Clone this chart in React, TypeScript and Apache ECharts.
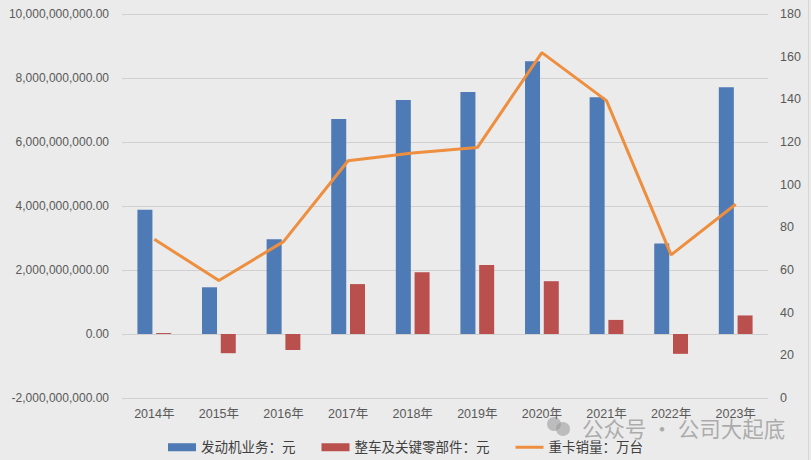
import React, { useEffect, useRef } from "react";
import * as echarts from "echarts";

const categories = ["2014年", "2015年", "2016年", "2017年", "2018年", "2019年", "2020年", "2021年", "2022年", "2023年"];
const engineRevenue = [3.88e9, 1.46e9, 2.96e9, 6.72e9, 7.31e9, 7.56e9, 8.52e9, 7.40e9, 2.83e9, 7.71e9];
const vehicleParts = [0.03e9, -0.6e9, -0.5e9, 1.56e9, 1.93e9, 2.16e9, 1.65e9, 0.44e9, -0.62e9, 0.58e9];
const truckSales = [74.4, 55.1, 73.3, 111.2, 114.8, 117.4, 161.9, 139.4, 67.1, 90.8];
const leftTicks = { min: -2e9, max: 1e10, interval: 2e9 };
const rightTicks = { min: 0, max: 180, interval: 20 };

const FONT = "'Liberation Sans', 'Noto Sans CJK SC', sans-serif";

function fmt(v: number): string {
  const neg = v < 0;
  const s = Math.abs(Math.round(v)).toString().replace(/\B(?=(\d{3})+(?!\d))/g, ",");
  return (neg ? "-" : "") + s + ".00";
}

export default function App() {
  const ref = useRef<HTMLDivElement>(null);
  useEffect(() => {
    if (!ref.current) return;
    const chart = echarts.init(ref.current, undefined, { renderer: "svg" });
    chart.setOption({
      animation: false,
      backgroundColor: "#ebebeb",
      textStyle: { fontFamily: FONT },
      grid: { left: 122, right: 43, top: 14, bottom: 62, containLabel: false },
      legend: {
        bottom: 1,
        left: "center",
        itemGap: 26,
        itemWidth: 28,
        itemHeight: 8,
        textStyle: { fontSize: 13.5, color: "#404040", fontFamily: FONT },
        data: [
          { name: "发动机业务：元", icon: "rect" },
          { name: "整车及关键零部件：元", icon: "rect" },
          { name: "重卡销量：万台", icon: "path://M0,0 L28,0 L28,3 L0,3 Z" },
        ],
      },
      xAxis: {
        type: "category",
        data: categories,
        axisLine: { show: false },
        axisTick: { show: false },
        axisLabel: { color: "#595959", fontSize: 12.5, margin: 10, fontFamily: FONT },
      },
      yAxis: [
        {
          type: "value",
          min: leftTicks.min,
          max: leftTicks.max,
          interval: leftTicks.interval,
          axisLine: { show: false },
          axisTick: { show: false },
          splitLine: { lineStyle: { color: "#d0d0d0", width: 1 } },
          axisLabel: { color: "#595959", fontSize: 12, margin: 13, formatter: (v: number) => fmt(v), fontFamily: FONT },
        },
        {
          type: "value",
          min: rightTicks.min,
          max: rightTicks.max,
          interval: rightTicks.interval,
          axisLine: { show: false },
          axisTick: { show: false },
          splitLine: { show: false },
          axisLabel: { color: "#595959", fontSize: 12.5, margin: 12, fontFamily: FONT },
        },
      ],
      series: [
        {
          name: "发动机业务：元",
          type: "bar",
          data: engineRevenue,
          itemStyle: { color: "#4e7ab5" },
          barWidth: 15,
          barGap: "25%",
        },
        {
          name: "整车及关键零部件：元",
          type: "bar",
          data: vehicleParts,
          itemStyle: { color: "#b9504d" },
          barWidth: 15,
        },
        {
          name: "重卡销量：万台",
          type: "line",
          yAxisIndex: 1,
          data: truckSales,
          showSymbol: false,
          symbol: "none",
          lineStyle: { color: "#ee8e3f", width: 3 },
          itemStyle: { color: "#ee8e3f" },
        },
      ],
      graphic: [
        {
          type: "line",
          shape: { x1: 808.5, y1: 0, x2: 808.5, y2: 460 },
          style: { stroke: "#d6d6d6", lineWidth: 1 },
          silent: true,
        },
        {
          type: "circle",
          shape: { cx: 554, cy: 424, r: 7 },
          style: { fill: "rgba(150,150,150,0.55)" },
          silent: true,
        },
        {
          type: "circle",
          shape: { cx: 563, cy: 429, r: 7 },
          style: { fill: "rgba(150,150,150,0.55)" },
          silent: true,
        },
        {
          type: "text",
          x: 582,
          y: 427,
          style: {
            text: "公众号 · 公司大起底",
            fill: "rgba(150,150,150,0.75)",
            fontSize: 21.5,
            fontFamily: "'Noto Sans CJK SC', sans-serif",
            verticalAlign: "middle",
          },
          silent: true,
        },
      ],
    });
    return () => chart.dispose();
  }, []);
  return (
    <div ref={ref} style={{ position: "fixed", left: 0, top: 0, width: 811, height: 460 }} />
  );
}
